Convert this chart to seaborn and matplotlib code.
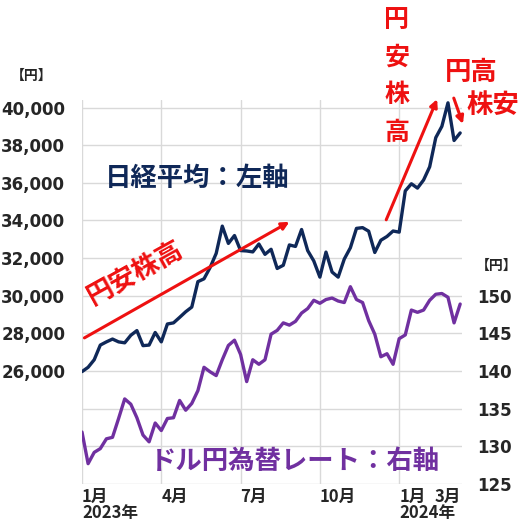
import matplotlib.pyplot as plt
import seaborn as sns
import pandas as pd

# Weekly closes, Jan 2023 - Mar 2024
nikkei = [25970, 26200, 26600, 27380, 27550, 27700, 27550, 27500, 27900, 28150,
          27350, 27380, 28050, 27550, 28500, 28560, 28850, 29150, 29400, 30750,
          30900, 31500, 32250, 33700, 32780, 33200, 32400, 32380, 32330, 32750,
          32200, 32470, 31450, 31620, 32700, 32620, 33520, 32400, 31850, 30990,
          32320, 31260, 30990, 31950, 32550, 33580, 33620, 33430, 32300, 32950,
          33150, 33440, 33380, 35570, 35950, 35720, 36150, 36850, 38400, 39000,
          40250, 38250, 38650]
usdjpy = [131.9, 127.7, 129.2, 129.7, 131.0, 131.2, 133.7, 136.3, 135.6, 133.8,
          131.5, 130.6, 133.1, 132.1, 133.7, 133.8, 136.1, 134.8, 135.7, 137.4,
          140.5, 139.9, 139.4, 141.5, 143.4, 144.1, 142.2, 138.6, 141.5, 140.9,
          141.5, 144.9, 145.4, 146.4, 146.1, 146.6, 147.7, 148.3, 149.4, 149.0,
          149.5, 149.7, 149.3, 149.1, 151.2, 149.5, 149.1, 146.7, 144.9, 141.9,
          142.3, 140.9, 144.3, 144.8, 148.1, 147.8, 148.1, 149.4, 150.2, 150.3,
          149.8, 146.4, 148.9]
weeks = list(range(len(nikkei)))

month_pos = [0, 13, 26, 39, 52]
month_labels = ["1月\n2023年", "4月", "7月", "10月", "1月\n2024年"]
left_ticks = list(range(20000, 40001, 2000))
right_ticks = [125, 130, 135, 140, 145, 150]

NAVY = "#0f2858"
PURPLE = "#7030a0"
RED = "#ee1111"
GRID = "#d9d9d9"

sns.set_style("white")
plt.rcParams['font.family'] = ['DejaVu Sans', 'Noto Sans CJK JP']
JP = ['Noto Sans CJK JP', 'DejaVu Sans']

df = pd.DataFrame({"week": weeks, "nikkei": nikkei, "usdjpy": usdjpy})

fig = plt.figure(figsize=(5.29, 5.24), dpi=100)
ax = fig.add_axes([82 / 529, 40 / 524, 380 / 529, 384 / 524])
ax2 = ax.twinx()

sns.lineplot(data=df, x="week", y="nikkei", color=NAVY, lw=2.4, ax=ax)
sns.lineplot(data=df, x="week", y="usdjpy", color=PURPLE, lw=2.4, ax=ax2)

ax.set_xlim(0, 62.3)
ax.set_ylim(20000, 40400)
ax2.set_ylim(125, 176)

ax.set_yticks(left_ticks)
ax.set_yticklabels([f"{v:,}" if v >= 26000 else "" for v in left_ticks],
                   fontsize=12, fontweight="bold")
ax2.set_yticks(right_ticks)
ax2.set_yticklabels([str(v) for v in right_ticks], fontsize=12, fontweight="bold")

ax.set_xticks(month_pos)
ax.set_xticklabels(month_labels, fontsize=12, fontweight="bold", ha="left",
                   linespacing=0.82, family=JP)
ax.set_xticks([60], ["3月"], minor=True)
for t in ax.get_xticklabels(minor=True):
    t.set_fontsize(12)
    t.set_fontweight("bold")
    t.set_family(JP)

ax.grid(True, which="major", color=GRID, lw=1)
ax2.grid(False)
for a in (ax, ax2):
    for s in a.spines.values():
        s.set_visible(False)
    a.set_xlabel("")
    a.set_ylabel("")
ax.tick_params(axis="y", length=0, pad=12)
ax.tick_params(axis="x", which="both", length=0, pad=3)
ax2.tick_params(axis="y", length=0, pad=11)

# unit labels
fig.text(32 / 529, 1 - 76 / 524, "【円】", fontsize=10, fontweight="bold",
         ha="center", va="center", family=JP)
fig.text(497 / 529, 1 - 266 / 524, "【円】", fontsize=10, fontweight="bold",
         ha="center", va="center", family=JP)

# series captions
ax2.text(3.7, 36230, "日経平均：左軸", transform=ax.transData, fontsize=19,
         fontweight="bold", color=NAVY, va="center", ha="left", family=JP)
ax2.text(11.1, 21220, "ドル円為替レート：右軸", transform=ax.transData, fontsize=19,
         fontweight="bold", color=PURPLE, va="center", ha="left", family=JP)

# arrows and comments
arrow = dict(arrowstyle="-|>", color=RED, lw=2.2, mutation_scale=11)
ax2.annotate("", xy=(34.4, 34000), xytext=(0, 27690), xycoords=ax.transData,
             textcoords=ax.transData, arrowprops=arrow, annotation_clip=False)
ax2.annotate("", xy=(58.4, 40580), xytext=(49.7, 33900), xycoords=ax.transData,
             textcoords=ax.transData, arrowprops=arrow, annotation_clip=False)
ax2.annotate("", xy=(62.6, 38990), xytext=(60.8, 40640), xycoords=ax.transData,
             textcoords=ax.transData, arrowprops=arrow, annotation_clip=False)

ax2.text(8.7, 31190, "円安株高", transform=ax.transData, fontsize=19,
         fontweight="bold", color=RED, rotation=29, rotation_mode="anchor",
         ha="center", va="center", family=JP)
ax2.text(51.6, 41650, "円\n安\n株\n高", transform=ax.transData, fontsize=18,
         fontweight="bold", color=RED, ha="center", va="center",
         linespacing=1.72, family=JP, clip_on=False)
ax2.text(59.5, 41850, "円高", transform=ax.transData, fontsize=19,
         fontweight="bold", color=RED, ha="left", va="center", family=JP,
         clip_on=False)
ax2.text(63.1, 40100, "株安", transform=ax.transData, fontsize=19,
         fontweight="bold", color=RED, ha="left", va="center", family=JP,
         clip_on=False)

plt.savefig("out.png", dpi=100)
